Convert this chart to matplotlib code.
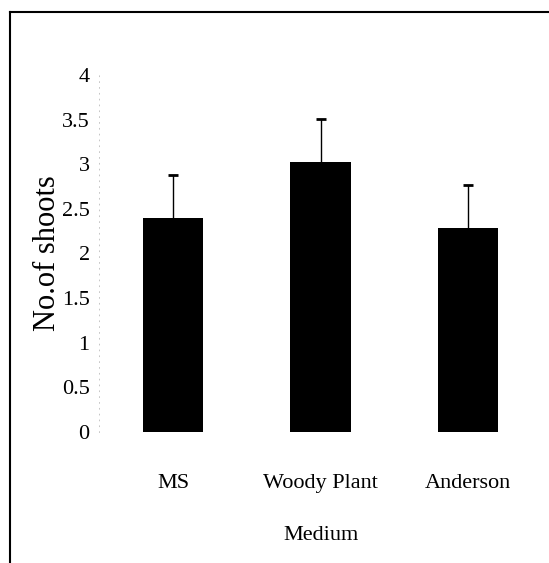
import matplotlib
matplotlib.use("Agg")
import matplotlib.pyplot as plt
from matplotlib.lines import Line2D

plt.rcParams['font.family'] = ['Liberation Serif', 'DejaVu Serif']

# 배지별 신초 수
media = ["MS", "Woody Plant", "Anderson"]
shoots = [2.40, 3.03, 2.29]
shoots_err = [0.48, 0.48, 0.48]
yticks = [0, 0.5, 1, 1.5, 2, 2.5, 3, 3.5, 4]
ytick_labels = ["0", "0.5", "1", "1.5", "2", "2.5", "3", "3.5", "4"]

fig = plt.figure(figsize=(5.49, 5.63), dpi=100)
ax = fig.add_axes([0.181, 0.2327, 0.806, 0.6341])

x = range(len(media))
ax.bar(x, shoots, width=0.41, color="black", zorder=2)
eb = ax.errorbar(x, shoots, yerr=[[0] * len(media), shoots_err], fmt="none",
                 ecolor="black", elinewidth=1, capsize=3.5, capthick=2, zorder=1)
# 아래쪽 캡 제거 (위쪽만 표시)
eb[1][0].set_visible(False)

ax.set_xlim(-0.5, 2.5)
ax.set_ylim(0, 4)
ax.set_yticks(yticks)
ax.set_yticklabels(ytick_labels, fontsize=16)
ax.set_xticks(list(x))
ax.set_xticklabels(media, fontsize=16)
ax.tick_params(axis="both", length=0)
ax.tick_params(axis="y", pad=7)
ax.tick_params(axis="x", pad=30)

for side in ["top", "right", "bottom"]:
    ax.spines[side].set_visible(False)
ax.spines["left"].set_color("#bbbbbb")
ax.spines["left"].set_linewidth(0.6)
ax.spines["left"].set_linestyle((0, (1, 6)))

ax.set_ylabel("No.of shoots", fontsize=22, labelpad=0)
ax.set_xlabel("Medium", fontsize=16, labelpad=24)

# 그림 테두리 (오른쪽/아래는 잘려 있음)
fig.add_artist(Line2D([10 / 549, 1.0], [1 - 12 / 563, 1 - 12 / 563],
                      transform=fig.transFigure, color="black", linewidth=1.5))
fig.add_artist(Line2D([10 / 549, 10 / 549], [1 - 12 / 563, 0.0],
                      transform=fig.transFigure, color="black", linewidth=1.5))

fig.savefig("out.png", dpi=100, facecolor="white")
